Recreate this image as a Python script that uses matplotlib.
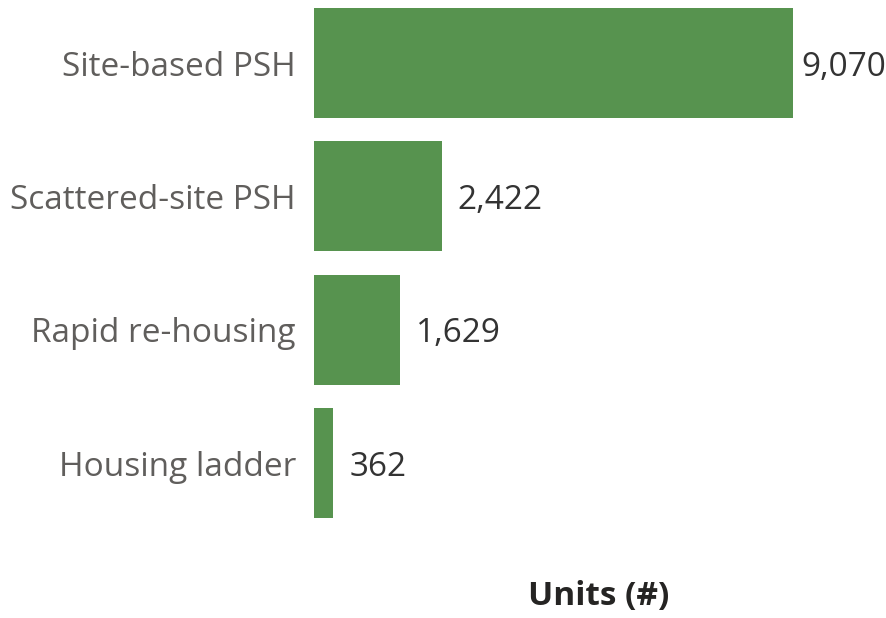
import matplotlib
matplotlib.use("Agg")
import matplotlib.pyplot as plt

plt.rcParams['font.family'] = ['Open Sans', 'DejaVu Sans']

categories = ["Site-based PSH", "Scattered-site PSH", "Rapid re-housing", "Housing ladder"]
units = [9070, 2422, 1629, 362]

bar_color = "#57934f"

fig = plt.figure(figsize=(8.87, 6.18), dpi=100)
ax = fig.add_axes([314/887, 1 - 530/618, 570/887, 530/618])

ypos = list(range(len(categories)))
ax.barh(ypos, units, height=0.825, color=bar_color)

ax.set_xlim(0, 10800)
ax.set_ylim(3.5025, -0.4725)

ax.set_yticks(ypos)
ax.set_yticklabels(categories, fontsize=24, color="#605e5c")
ax.tick_params(axis="y", length=0, pad=13)
ax.set_xticks([])
for s in ax.spines.values():
    s.set_visible(False)

# value labels
for y, v in zip(ypos, units):
    off = 9 if v == max(units) else 16
    ax.annotate(f"{v:,}", (v, y), xytext=(off * 72 / 100, 0), textcoords="offset points",
                va="center_baseline", ha="left", fontsize=24, color="#333333")

ax.set_xlabel("Units (#)", fontsize=24, fontweight="bold", color="#252423")
ax.xaxis.set_label_coords(0.5, -0.126)
ax.xaxis.label.set_va("center")

fig.savefig("out.png", dpi=100)
